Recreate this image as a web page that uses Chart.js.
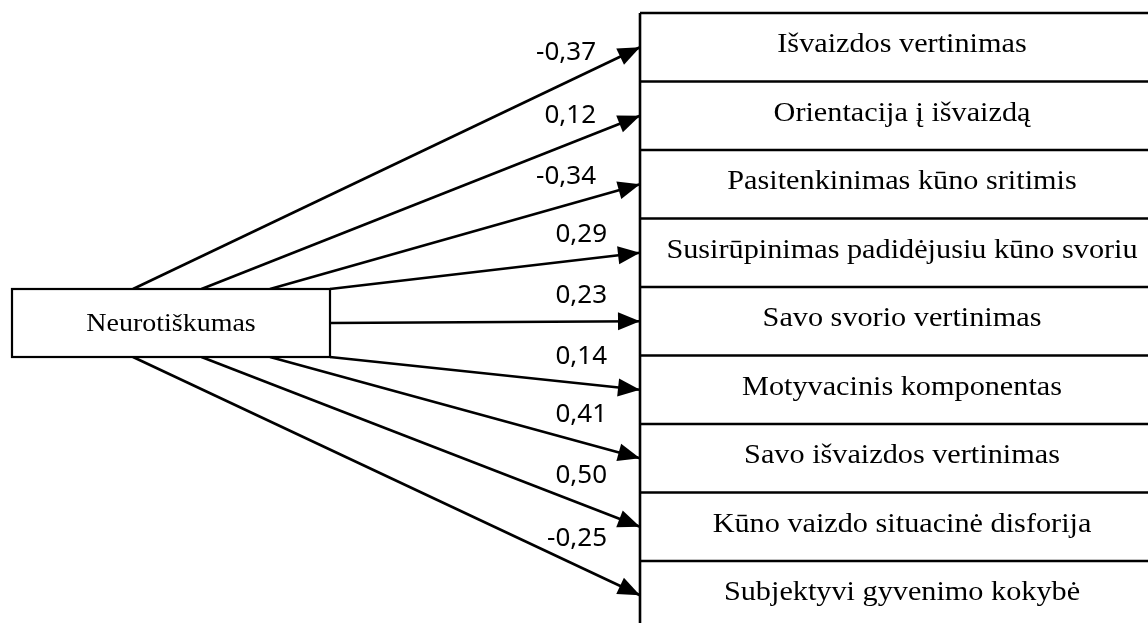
<!DOCTYPE html>
<html>
<head>
<meta charset="utf-8">
<script src="https://cdn.jsdelivr.net/npm/chart.js@4"></script>
<style>
  html, body { margin: 0; padding: 0; background: #fff; }
  #wrap { width: 1148px; height: 623px; }
</style>
</head>
<body>
<div id="wrap"><canvas id="pathChart"></canvas></div>
<script>
// Datos del diagrama
const predictor = 'Neurotiškumas';
const outcomes = [
    'Išvaizdos vertinimas',
    'Orientacija į išvaizdą',
    'Pasitenkinimas kūno sritimis',
    'Susirūpinimas padidėjusiu kūno svoriu',
    'Savo svorio vertinimas',
    'Motyvacinis komponentas',
    'Savo išvaizdos vertinimas',
    'Kūno vaizdo situacinė disforija',
    'Subjektyvi gyvenimo kokybė'
];
const coefficients = [-0.37, 0.12, -0.34, 0.29, 0.23, 0.14, 0.41, 0.50, -0.25];

// Geometría (unidades de la escala)
const W = 1148, H = 623;
const boxLeft = 640, rowTop = 13, rowH = 68.5;
const src = { x1: 12, x2: 330, y1: 289, y2: 357 };

const rowCenter = i => rowTop + rowH * i + rowH / 2;

// punto de salida de cada flecha en la caja de la izquierda
function startPoint(i) {
    const n = outcomes.length;
    if (i < 3) return { x: 133 + 68.5 * i, y: src.y1 };
    if (i === 3) return { x: src.x2, y: src.y1 };
    if (i === 4) return { x: src.x2, y: (src.y1 + src.y2) / 2 };
    if (i === 5) return { x: src.x2, y: src.y2 };
    return { x: 133 + 68.5 * (n - 1 - i), y: src.y2 };
}

const fmt = v => v.toFixed(2).replace('.', ',');

const datasets = outcomes.map((name, i) => ({
    label: name,
    data: [startPoint(i), { x: boxLeft, y: rowCenter(i) }],
    showLine: true,
    borderColor: '#000',
    borderWidth: 2.6,
    pointRadius: 0,
    fill: false
}));

// texto serif algo ensanchado, como en el original
function stretchedText(ctx, text, x, y, sx) {
    ctx.save();
    ctx.translate(x, y);
    ctx.scale(sx, 1);
    ctx.fillText(text, 0, 0);
    ctx.restore();
}

const diagramPlugin = {
    id: 'diagram',
    afterDatasetsDraw(chart) {
        const ctx = chart.ctx;
        const xs = chart.scales.x, ys = chart.scales.y;
        const px = v => xs.getPixelForValue(v);
        const py = v => ys.getPixelForValue(v);
        ctx.save();
        ctx.strokeStyle = '#000';
        ctx.lineWidth = 2.2;

        // caja del predictor
        ctx.fillStyle = '#fff';
        ctx.fillRect(px(src.x1), py(src.y1), px(src.x2) - px(src.x1), py(src.y2) - py(src.y1));
        ctx.strokeRect(px(src.x1), py(src.y1), px(src.x2) - px(src.x1), py(src.y2) - py(src.y1));
        ctx.fillStyle = '#000';
        ctx.font = '25px "Liberation Serif", "Times New Roman", serif';
        ctx.textAlign = 'center';
        ctx.textBaseline = 'alphabetic';
        stretchedText(ctx, predictor, px((src.x1 + src.x2) / 2), py(331), 1.12);

        // cajas de resultados
        ctx.lineWidth = 2.6;
        ctx.beginPath();
        ctx.moveTo(px(boxLeft), py(rowTop));
        ctx.lineTo(px(boxLeft), py(H));
        for (let i = 0; i < outcomes.length; i++) {
            const t = rowTop + rowH * i;
            ctx.moveTo(px(boxLeft), py(t));
            ctx.lineTo(px(W), py(t));
        }
        ctx.stroke();
        ctx.font = '27px "Liberation Serif", "Times New Roman", serif';
        outcomes.forEach((name, i) => {
            stretchedText(ctx, name, px(902), py(rowTop + rowH * i + 39), 1.12);
        });

        // puntas de flecha
        datasets.forEach(ds => {
            const a = ds.data[0], b = ds.data[1];
            const x0 = px(a.x), y0 = py(a.y), x1 = px(b.x), y1 = py(b.y);
            const ang = Math.atan2(y1 - y0, x1 - x0);
            const len = 22, half = 9;
            ctx.beginPath();
            ctx.moveTo(x1, y1);
            ctx.lineTo(x1 - len * Math.cos(ang) - half * Math.sin(ang), y1 - len * Math.sin(ang) + half * Math.cos(ang));
            ctx.lineTo(x1 - len * Math.cos(ang) + half * Math.sin(ang), y1 - len * Math.sin(ang) - half * Math.cos(ang));
            ctx.closePath();
            ctx.fill();
        });

        // coeficientes
        ctx.font = '26px "Noto Sans", "Open Sans", sans-serif';
        ctx.textAlign = 'right';
        ctx.textBaseline = 'middle';
        coefficients.forEach((c, i) => {
            const a = datasets[i].data[0], b = datasets[i].data[1];
            const lx = 575;
            const ly = a.y + (b.y - a.y) * (lx - a.x) / (b.x - a.x) - 26;
            ctx.fillText(fmt(c), px(i < 3 ? 596 : 607), py(ly));
        });
        ctx.restore();
    }
};

new Chart(document.getElementById('pathChart'), {
    type: 'scatter',
    data: { datasets },
    options: {
        responsive: true,
        maintainAspectRatio: false,
        animation: false,
        layout: { padding: 0 },
        plugins: {
            legend: { display: false },
            tooltip: { enabled: false }
        },
        scales: {
            x: { type: 'linear', min: 0, max: W, display: false },
            y: { type: 'linear', min: 0, max: H, reverse: true, display: false }
        }
    },
    plugins: [diagramPlugin]
});
</script>
</body>
</html>
